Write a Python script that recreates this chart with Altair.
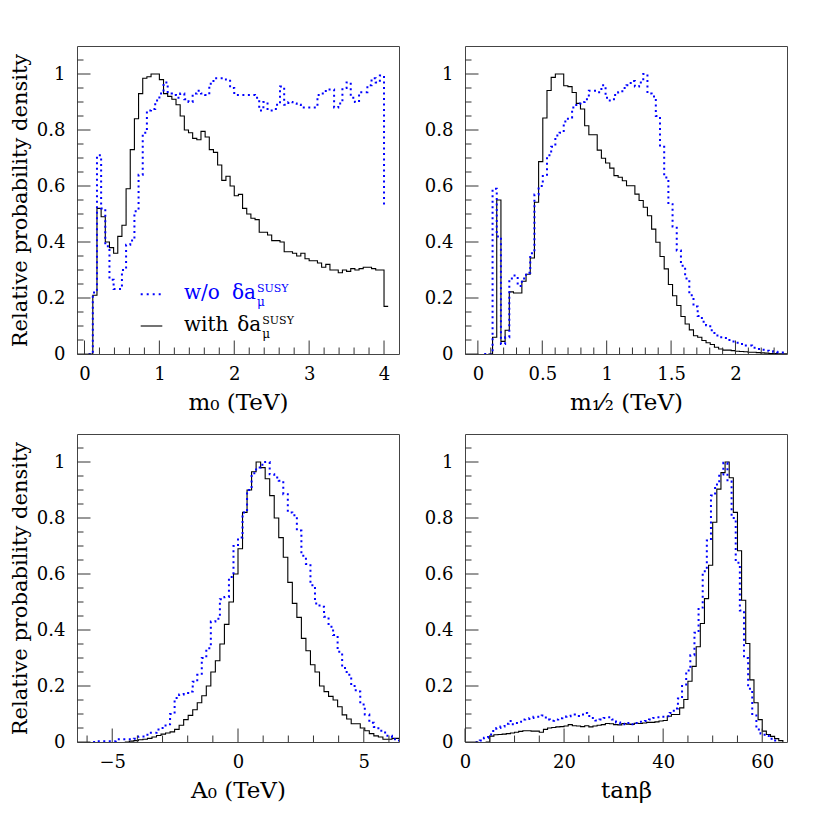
import altair as alt
import pandas as pd

# ---------------- data ----------------
# Panel 1: m0 (TeV); bins of 1/18 TeV
M0_WIDTH = 1 / 18
M0_WITH_START = 1 / 18
M0_WITH = [0, 0.21, 0.52, 0.49, 0.40, 0.38, 0.36, 0.42, 0.46, 0.59, 0.73, 0.84, 0.93, 0.985,
           0.99, 1.0, 1.0, 0.98, 0.93, 0.92, 0.91, 0.89, 0.85, 0.80, 0.79, 0.77, 0.765, 0.795,
           0.775, 0.73, 0.72, 0.675, 0.62, 0.635, 0.60, 0.565, 0.57, 0.52, 0.50, 0.485, 0.48,
           0.435, 0.435, 0.425, 0.405, 0.405, 0.40, 0.365, 0.365, 0.36, 0.35, 0.36, 0.34, 0.333,
           0.333, 0.325, 0.31, 0.32, 0.30, 0.30, 0.29, 0.30, 0.295, 0.305, 0.30, 0.305, 0.31,
           0.31, 0.305, 0.30, 0.30, 0.17]
M0_WO_START = 1 / 18
M0_WO = [0, 0.22, 0.71, 0.52, 0.385, 0.265, 0.232, 0.232, 0.30, 0.39, 0.405, 0.51, 0.64, 0.79,
         0.87, 0.875, 0.905, 0.93, 0.97, 0.93, 0.925, 0.915, 0.93, 0.91, 0.90, 0.93, 0.94, 0.93,
         0.925, 0.965, 0.985, 0.985, 0.985, 0.98, 0.95, 0.925, 0.925, 0.925, 0.925, 0.925, 0.915,
         0.87, 0.90, 0.87, 0.87, 0.89, 0.955, 0.89, 0.90, 0.895, 0.89, 0.88, 0.88, 0.88, 0.88,
         0.925, 0.93, 0.945, 0.945, 0.88, 0.895, 0.95, 0.97, 0.915, 0.90, 0.935, 0.935, 0.96,
         0.985, 0.97, 0.995, 0.53]

# Panel 2: m1/2 (TeV)
M12_WIDTH = 0.0325
M12_WITH_START = 0.0815
M12_WITH = [0, 0.06, 0.55, 0.045, 0.085, 0.222, 0.218, 0.218, 0.26, 0.285, 0.343, 0.542, 0.687,
            0.843, 0.941, 0.988, 1.0, 1.0, 0.958, 0.955, 0.934, 0.895, 0.875, 0.815, 0.783, 0.783,
            0.728, 0.699, 0.682, 0.664, 0.637, 0.631, 0.619, 0.601, 0.601, 0.571, 0.548, 0.524,
            0.494, 0.446, 0.399, 0.348, 0.304, 0.248, 0.208, 0.173, 0.134, 0.107, 0.086, 0.065,
            0.06, 0.048, 0.04, 0.034, 0.024, 0.018, 0.014, 0.014, 0.012, 0.01, 0.009, 0.008,
            0.006, 0.006, 0.005, 0.004, 0.003, 0.002, 0.002, 0.001, 0.001, 0.001]
M12_WO_START = 0.049
M12_WO = [0, 0, 0.59, 0.42, 0.036, 0.06, 0.27, 0.28, 0.243, 0.27, 0.29, 0.36, 0.57, 0.60, 0.64,
          0.71, 0.74, 0.78, 0.79, 0.83, 0.845, 0.88, 0.895, 0.90, 0.91, 0.94, 0.94, 0.935, 0.96,
          0.915, 0.905, 0.925, 0.935, 0.95, 0.96, 0.975, 0.955, 0.97, 1.0, 0.93, 0.92, 0.85,
          0.74, 0.63, 0.535, 0.455, 0.37, 0.315, 0.27, 0.21, 0.17, 0.136, 0.115, 0.103, 0.085,
          0.066, 0.06, 0.057, 0.05, 0.045, 0.04, 0.036, 0.03, 0.03, 0.022, 0.018, 0.015, 0.012,
          0.01, 0.008, 0.006, 0.005, 0.005]

# Panel 3: A0 (TeV)
A0_WIDTH = 0.18
A0_WITH_START = -4.5
A0_WITH = [0, 0.003, 0.005, 0.008, 0.01, 0.013, 0.018, 0.023, 0.028, 0.032, 0.036, 0.045, 0.06,
           0.08, 0.095, 0.115, 0.14, 0.165, 0.20, 0.25, 0.29, 0.35, 0.42, 0.50, 0.60, 0.69, 0.82,
           0.90, 0.965, 1.0, 0.98, 0.94, 0.88, 0.80, 0.73, 0.66, 0.57, 0.495, 0.445, 0.37, 0.326,
           0.276, 0.25, 0.20, 0.18, 0.163, 0.15, 0.126, 0.097, 0.082, 0.065, 0.065, 0.05, 0.04,
           0.03, 0.022, 0.018, 0.01, 0.01, 0.013, 0.013]
A0_WO_START = -5.76
A0_WO = [0, 0.003, 0.003, 0.003, 0.003, 0.01, 0.01, 0.01, 0.01, 0.012, 0.02, 0.02, 0.033, 0.033,
         0.045, 0.05, 0.063, 0.10, 0.157, 0.17, 0.175, 0.18, 0.215, 0.24, 0.30, 0.335, 0.43,
         0.44, 0.51, 0.518, 0.589, 0.70, 0.73, 0.82, 0.90, 0.96, 0.98, 0.99, 1.0, 0.956, 0.945,
         0.933, 0.885, 0.82, 0.81, 0.755, 0.665, 0.636, 0.56, 0.495, 0.483, 0.447, 0.412, 0.382,
         0.322, 0.264, 0.24, 0.20, 0.18, 0.134, 0.098, 0.069, 0.054, 0.04, 0.034, 0.022, 0.01,
         0.005]

# Panel 4: tan(beta)
TB_WIDTH = 5 / 6
TB_WITH_START = 25 / 6
TB_WITH = [0, 0.021, 0.026, 0.027, 0.028, 0.030, 0.032, 0.035, 0.038, 0.040, 0.040, 0.039,
           0.039, 0.035, 0.045, 0.05, 0.052, 0.054, 0.055, 0.057, 0.062, 0.058, 0.057, 0.055,
           0.058, 0.054, 0.057, 0.06, 0.062, 0.066, 0.065, 0.062, 0.061, 0.066, 0.064, 0.063,
           0.067, 0.066, 0.068, 0.07, 0.07, 0.072, 0.075, 0.077, 0.092, 0.098, 0.098, 0.122,
           0.152, 0.217, 0.27, 0.34, 0.423, 0.512, 0.631, 0.785, 0.903, 0.962, 1.0, 0.944, 0.82,
           0.683, 0.506, 0.352, 0.222, 0.14, 0.08, 0.039, 0.027, 0.02, 0.012, 0.005, 0]
TB_WO_START = 2.15
TB_WO = [0, 0.005, 0.015, 0.027, 0.039, 0.05, 0.055, 0.065, 0.075, 0.063, 0.072, 0.08, 0.082,
         0.086, 0.09, 0.09, 0.095, 0.08, 0.076, 0.08, 0.085, 0.09, 0.092, 0.094, 0.098, 0.093,
         0.104, 0.093, 0.086, 0.077, 0.08, 0.086, 0.088, 0.08, 0.07, 0.065, 0.063, 0.068, 0.063,
         0.072, 0.072, 0.075, 0.08, 0.086, 0.088, 0.09, 0.092, 0.104, 0.12, 0.155, 0.205, 0.255,
         0.31, 0.39, 0.48, 0.61, 0.72, 0.88, 0.92, 0.955, 0.997, 0.93, 0.80, 0.64, 0.47, 0.30,
         0.19, 0.10, 0.045, 0.03, 0.022, 0.012, 0.005, 0]

Y_LABELS = [0, 0.2, 0.4, 0.6, 0.8, 1]
Y_MINOR = [0.05, 0.1, 0.15, 0.25, 0.3, 0.35, 0.45, 0.5, 0.55, 0.65, 0.7, 0.75, 0.85, 0.9,
           0.95, 1.05]

# ---------------- helpers ----------------
FONT = "DejaVu Serif"
W, H = 322, 308
BLUE = "#0000ff"


def steps(start, width, vals, close=True):
    xs = [start + i * width for i in range(len(vals))]
    ys = list(vals)
    if close:
        xs.append(start + len(vals) * width)
        ys.append(vals[-1])
    return pd.DataFrame({"x": xs, "y": ys, "o": list(range(len(xs)))})


def panel(df_with, df_wo, xdom, xlabels, xmajor, xminor, xtitle, ytitle=None, legend=False):
    xs = alt.Scale(domain=xdom, nice=False, zero=False)
    ys = alt.Scale(domain=[0, 1.1], nice=False, zero=False)
    xaxis = alt.Axis(values=xlabels, format="~r", ticks=False, domain=False, grid=False,
                     labelFont=FONT, labelFontSize=18, labelColor="black", labelPadding=11,
                     labelFlush=False, labelOverlap=False, title=xtitle, titleFont=FONT,
                     titleFontSize=23, titleFontWeight="normal", titleColor="black",
                     titlePadding=8)
    ykw = dict(values=Y_LABELS, format="~r", ticks=False, domain=False, grid=False,
               labelFont=FONT, labelFontSize=18, labelColor="black", labelPadding=12)
    if ytitle:
        ykw.update(title=ytitle, titleFont=FONT, titleFontSize=21, titleFontWeight="normal",
                   titleColor="black", titlePadding=6)
    else:
        ykw.update(title=None)
    yaxis = alt.Axis(**ykw)

    def X(field):
        return alt.X(field, scale=xs, axis=xaxis)

    def Y(field):
        return alt.Y(field, scale=ys, axis=yaxis)

    black = alt.Chart(df_with).mark_line(
        interpolate="step-after", color="black", strokeWidth=1.1, clip=True
    ).encode(x=X("x:Q"), y=Y("y:Q"), order="o:Q")
    blue = alt.Chart(df_wo).mark_line(
        interpolate="step-after", color=BLUE, strokeWidth=2, strokeDash=[2, 3.5], clip=True
    ).encode(x=X("x:Q"), y=Y("y:Q"), order="o:Q")

    tick_color = "#333333"
    ymaj = alt.Chart(pd.DataFrame({"y": Y_LABELS})).mark_rule(color=tick_color, strokeWidth=1).encode(
        y=Y("y:Q"), x=alt.value(0), x2=alt.value(13.5))
    ymin = alt.Chart(pd.DataFrame({"y": Y_MINOR})).mark_rule(color=tick_color, strokeWidth=1).encode(
        y=Y("y:Q"), x=alt.value(0), x2=alt.value(6.5))
    xmaj = alt.Chart(pd.DataFrame({"x": xmajor})).mark_rule(color=tick_color, strokeWidth=1).encode(
        x=X("x:Q"), y=alt.value(H), y2=alt.value(H - 13.5))
    xmin = alt.Chart(pd.DataFrame({"x": xminor})).mark_rule(color=tick_color, strokeWidth=1).encode(
        x=X("x:Q"), y=alt.value(H), y2=alt.value(H - 6.5))

    layers = [black, blue, ymaj, ymin, xmaj, xmin]

    if legend:
        one = pd.DataFrame({"k": [0]})
        layers.append(alt.Chart(one).mark_rule(color=BLUE, strokeWidth=2, strokeDash=[2, 4]).encode(
            x=alt.value(63.7), x2=alt.value(85.3), y=alt.value(248.3)))
        layers.append(alt.Chart(one).mark_rule(color="black", strokeWidth=1.1).encode(
            x=alt.value(63.7), x2=alt.value(85.3), y=alt.value(280)))
        pieces = [
            ("w/o", 107, 253.3, 20, BLUE),
            ("δa", 155, 253.3, 20, BLUE),
            ("SUSY", 180, 246, 11, BLUE),
            ("μ", 180, 260, 12, BLUE),
            ("with", 107, 285, 20, "black"),
            ("δa", 160.3, 285, 20, "black"),
            ("SUSY", 185.3, 278, 11, "black"),
            ("μ", 185.3, 292, 12, "black"),
        ]
        for txt, px, py, fs, col in pieces:
            layers.append(alt.Chart(one).mark_text(
                text=txt, font=FONT, fontSize=fs, color=col, align="left", baseline="alphabetic"
            ).encode(x=alt.value(px), y=alt.value(py)))

    return alt.layer(*layers).properties(width=W, height=H)


p1 = panel(steps(M0_WITH_START, M0_WIDTH, M0_WITH), steps(M0_WO_START, M0_WIDTH, M0_WO, close=False),
           [-0.1, 4.2], [0, 1, 2, 3, 4], [0, 1, 2, 3, 4],
           [0.2, 0.4, 0.6, 0.8, 1.2, 1.4, 1.6, 1.8, 2.2, 2.4, 2.6, 2.8, 3.2, 3.4, 3.6, 3.8],
           "m₀ (TeV)", ytitle="Relative probability density", legend=True)
p2 = panel(steps(M12_WITH_START, M12_WIDTH, M12_WITH), steps(M12_WO_START, M12_WIDTH, M12_WO),
           [-0.1, 2.4], [0, 0.5, 1, 1.5, 2], [0, 0.5, 1, 1.5, 2],
           [0.1, 0.2, 0.3, 0.4, 0.6, 0.7, 0.8, 0.9, 1.1, 1.2, 1.3, 1.4, 1.6, 1.7, 1.8, 1.9, 2.1,
            2.2, 2.3],
           "m₁⁄₂ (TeV)")
p3 = panel(steps(A0_WITH_START, A0_WIDTH, A0_WITH), steps(A0_WO_START, A0_WIDTH, A0_WO),
           [-6.4, 6.4], [-5, 0, 5], [-5, 0, 5], [-6, -4, -3, -2, -1, 1, 2, 3, 4, 6],
           "A₀ (TeV)", ytitle="Relative probability density")
p4 = panel(steps(TB_WITH_START, TB_WIDTH, TB_WITH, close=False),
           steps(TB_WO_START, TB_WIDTH, TB_WO, close=False),
           [0, 65], [0, 20, 40, 60], [0, 20, 40, 60], [5, 10, 15, 25, 30, 35, 45, 50, 55],
           "tanβ")

top = alt.hconcat(p1, p2, spacing=23)
bottom = alt.hconcat(p3, p4, spacing=23)
chart = alt.vconcat(top, bottom, spacing=18).properties(
    padding={"left": 0, "top": 37, "right": 0, "bottom": 0}
).configure_view(stroke="#444444", strokeWidth=1)

chart.save("out.html", embed_options={"renderer": "svg", "actions": False})
